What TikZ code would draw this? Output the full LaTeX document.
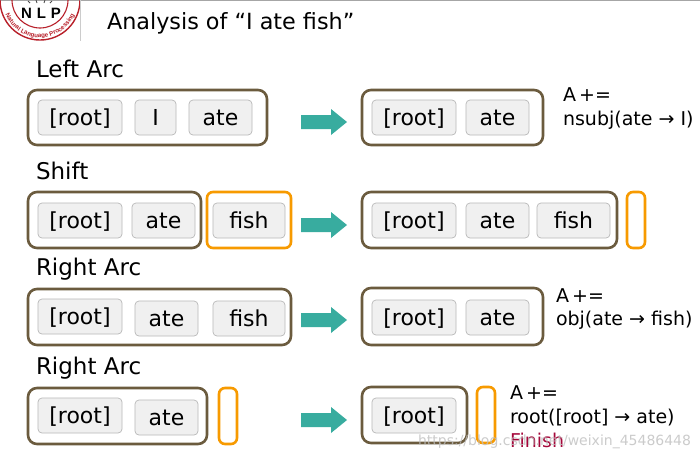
\documentclass[tikz,border=0pt]{standalone}
\usepackage{fontspec}
\setmainfont{DejaVu Sans}
\newfontfamily\logofont{Liberation Sans}
\usetikzlibrary{decorations.text}
\definecolor{brownb}{HTML}{6B5B3E}
\definecolor{orangeb}{HTML}{F79A00}
\definecolor{teala}{HTML}{38AC9F}
\definecolor{logored}{HTML}{B8202A}
\definecolor{finishred}{HTML}{A5073A}
\tikzset{
  x=1pt,y=-1pt,
  every node/.style={inner sep=0pt,outer sep=0pt},
  chip/.style={draw=black!28,fill=black!6,rounded corners=4pt,line width=0.7pt,font=\fontsize{22}{24}\selectfont,text height=20.6pt,text depth=5pt},
  stackbox/.style={draw=brownb,line width=2.6pt,rounded corners=9pt},
  bufbox/.style={draw=orangeb,line width=2.6pt,rounded corners=6pt},
  heading/.style={anchor=base west,font=\fontsize{23}{26}\selectfont},
  note/.style={anchor=base west,font=\fontsize{19}{22}\selectfont},
  fatarrow/.style={fill=teala},
}
\newcommand{\chipnode}[6]{\node[chip,minimum width=#3-#2,minimum height=#5-#4] (#1) at ({(#2+#3)/2},{(#4+#5)/2}) {#6};}
\newcommand{\outerbox}[6]{\draw[#6] (#2,#4) rectangle (#3,#5) coordinate (#1);}
\newcommand{\fatarr}[1]{\fill[fatarrow] (301,#1-7) -- (331,#1-7) -- (331,#1-13) -- (347,#1) -- (331,#1+13) -- (331,#1+7) -- (301,#1+7) -- cycle;}
\begin{document}
\begin{tikzpicture}
\useasboundingbox (0,0) rectangle (700,459);
\fill[white] (0,0) rectangle (700,459);
\fill[black!35] (0,0) rectangle (700,1.2);
% logo
\begin{scope}
\clip (0,0) rectangle (82,44);
\draw[logored,line width=1.4pt] (40,0) circle (40);
\draw[logored,line width=1.1pt] (40,0) circle (28);
\path[postaction={decorate,decoration={text along path,text align=center,
  text={|\logofont\fontsize{6.2}{7}\selectfont\bfseries\color{logored}|Natural Language Processing}}}]
  (2.5,2) arc[start angle=177,end angle=3,radius=37.5];
\node[font=\logofont\fontsize{15}{16}\selectfont\bfseries] (nlp) at (41,13) {N\,\,L\,\,P};
\draw[black!70,line width=0.8pt] (36,0) -- (37,3) (45,0) -- (44,3) (28,1) -- (30,3) (52,1) -- (50,3);
\end{scope}
\draw[black!20,line width=0.6pt] (80.5,0) -- (80.5,41);
\node[anchor=base west,font=\fontsize{22.3}{26}\selectfont] (title) at (107,29) {Analysis of “I ate fish”};
% row 1
\node[heading] (h1) at (36,77) {Left Arc};
\outerbox{o1}{28}{267}{90}{145}{stackbox}
\chipnode{a1}{38}{122}{100}{135}{[root]}
\chipnode{a2}{135}{176}{100}{135}{I}
\chipnode{a3}{189}{252}{100}{135}{ate}
\fatarr{122}
\outerbox{o1r}{362}{543}{90}{145}{stackbox}
\chipnode{b1}{372}{456}{100}{135}{[root]}
\chipnode{b2}{466}{529}{100}{135}{ate}
\node[note] (n1a) at (563,101) {A\,+=};
\node[note] (n1b) at (563,125) {nsubj(ate → I)};
% row 2
\node[heading] (h2) at (36,179) {Shift};
\outerbox{o2}{28}{201}{192}{248}{stackbox}
\chipnode{c1}{38}{122}{203}{238}{[root]}
\chipnode{c2}{132}{195}{203}{238}{ate}
\outerbox{o2b}{207}{291}{192}{248}{bufbox}
\chipnode{c3}{213}{285}{203}{238}{fish}
\fatarr{225}
\outerbox{o2r}{362}{617}{192}{248}{stackbox}
\chipnode{d1}{372}{456}{203}{238}{[root]}
\chipnode{d2}{466}{529}{203}{238}{ate}
\chipnode{d3}{537}{610}{203}{238}{fish}
\outerbox{o2s}{627}{645}{192}{248}{bufbox}
% row 3
\node[heading] (h3) at (36,275) {Right Arc};
\outerbox{o3}{28}{291}{289}{345}{stackbox}
\chipnode{e1}{38}{122}{299}{334}{[root]}
\chipnode{e2}{135}{198}{301}{336}{ate}
\chipnode{e3}{213}{285}{301}{336}{fish}
\fatarr{320}
\outerbox{o3r}{362}{543}{288}{345}{stackbox}
\chipnode{f1}{372}{456}{300}{335}{[root]}
\chipnode{f2}{466}{529}{300}{335}{ate}
\node[note] (n3a) at (556,302) {A\,+=};
\node[note] (n3b) at (556,325) {obj(ate → fish)};
% row 4
\node[heading] (h4) at (36,374) {Right Arc};
\outerbox{o4}{28}{207}{388}{444}{stackbox}
\chipnode{g1}{38}{122}{398}{433}{[root]}
\chipnode{g2}{135}{198}{400}{435}{ate}
\outerbox{o4s}{219}{237}{388}{444}{bufbox}
\fatarr{420}
\outerbox{o4r}{362}{467}{387}{443}{stackbox}
\chipnode{j1}{372}{456}{398}{433}{[root]}
\outerbox{o4t}{477}{495}{387}{443}{bufbox}
\node[note] (n4a) at (510,399) {A\,+=};
\node[note] (n4b) at (510,423) {root([root] → ate)};
\node[note,text=finishred] (n4c) at (510,447) {Finish};
\node[anchor=base west,font=\fontsize{14}{16}\selectfont,text=black!25,opacity=0.8] (wm) at (418,445) {https://blog.csdn.net/weixin\_45486448};
\end{tikzpicture}
\end{document}
